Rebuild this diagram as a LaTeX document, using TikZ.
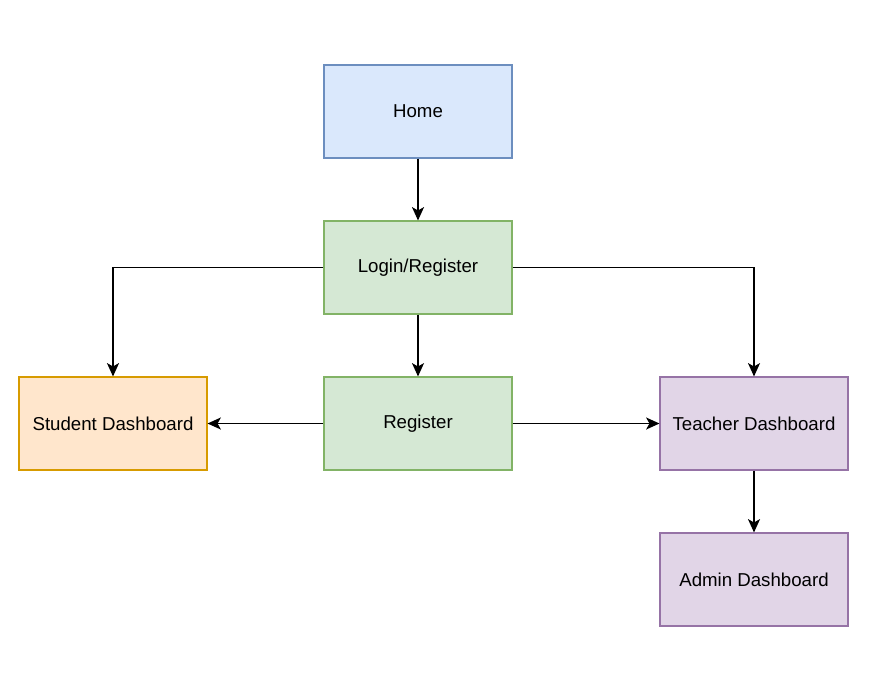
\documentclass[tikz,border=0pt]{standalone}
\usepackage{fontspec}
\setmainfont{Liberation Sans}
\usepackage{tikz}
\usetikzlibrary{positioning,arrows.meta}

\definecolor{blueFill}{HTML}{DAE8FC}
\definecolor{blueLine}{HTML}{6C8EBF}
\definecolor{greenFill}{HTML}{D5E8D4}
\definecolor{greenLine}{HTML}{82B366}
\definecolor{orangeFill}{HTML}{FFE6CC}
\definecolor{orangeLine}{HTML}{D79B00}
\definecolor{purpleFill}{HTML}{E1D5E7}
\definecolor{purpleLine}{HTML}{9673A6}

\begin{document}
\begin{tikzpicture}[x=0.75pt,y=-0.75pt,
		page/.style={rectangle,minimum width=141pt,minimum height=69.75pt,inner sep=0pt,font=\fontsize{14}{16}\selectfont,line width=0.8pt},
		homepage/.style={page,fill=blueFill,draw=blueLine},
		authpage/.style={page,fill=greenFill,draw=greenLine},
		studentpage/.style={page,fill=orangeFill,draw=orangeLine},
		staffpage/.style={page,fill=purpleFill,draw=purpleLine},
		flow/.style={-{Stealth[length=10pt,width=9pt,inset=2.5pt]},line width=1.2pt}]
	\useasboundingbox[fill=white] (0,0) rectangle (891,678);
	\node[homepage] (home) at (418,111.5) {Home};
	\node[authpage] (login) at (418,267.5) {Login/Register};
	\node[authpage] (register) at (418,423.5) {Register};
	\node[studentpage] (student) at (113,423.5) {Student Dashboard};
	\node[staffpage] (teacher) at (754,423.5) {Teacher Dashboard};
	\node[staffpage] (admin) at (754,579.5) {Admin Dashboard};
	
	\draw[flow] (home) -- (login);
	\draw[flow] (login) -- (register);
	\draw[flow] (login.west) -| (student.north);
	\draw[flow] (login.east) -| (teacher.north);
	\draw[flow] (register) -- (student);
	\draw[flow] (register) -- (teacher);
	\draw[flow] (teacher) -- (admin);
\end{tikzpicture}
\end{document}
